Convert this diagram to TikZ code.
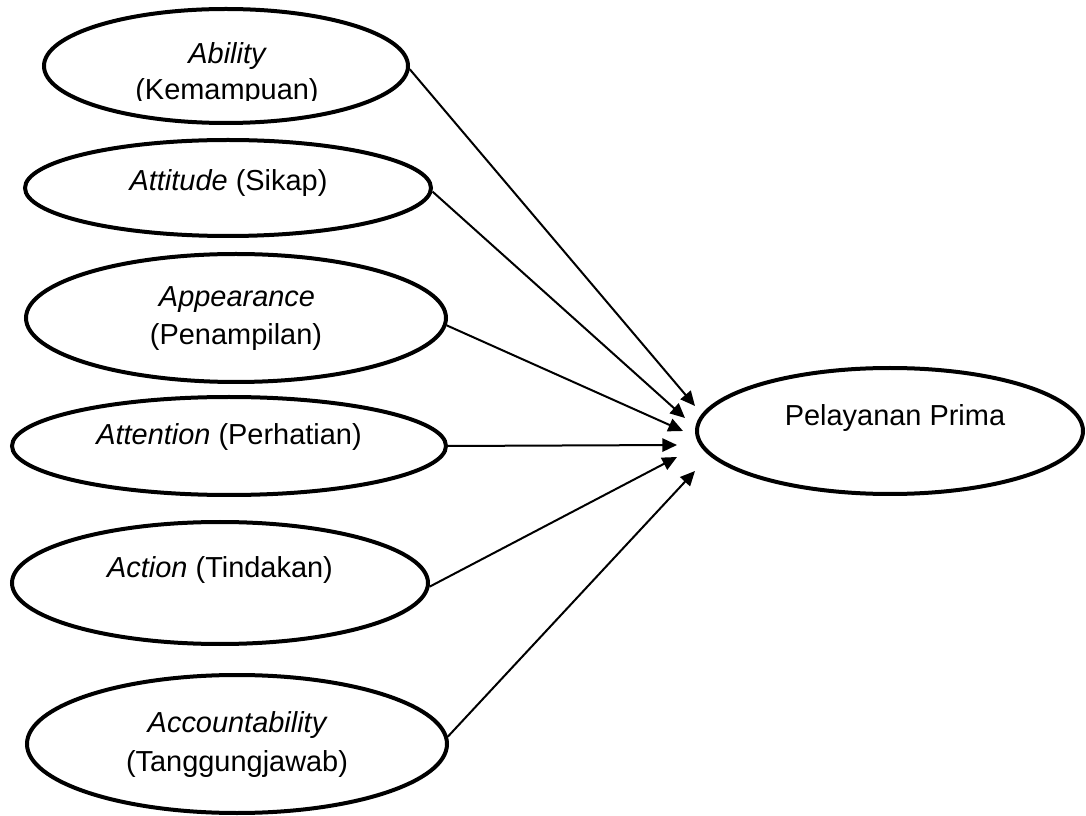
\documentclass[tikz,border=0pt]{standalone}
\usepackage{fontspec}
\setmainfont{Liberation Sans}
\usetikzlibrary{shapes.geometric,arrows.meta}
\begin{document}
\begin{tikzpicture}[x=0.75pt,y=-0.75pt,
  oval/.style={ellipse, draw, line width=3pt, inner sep=0pt},
  lbl/.style={anchor=base, inner sep=0pt, font=\fontsize{21.7pt}{26pt}\selectfont},
  conn/.style={line width=1.5pt, -{Triangle[length=11pt,width=10pt]}}]
\useasboundingbox (0,0) rectangle (1086,816);
% ellipses
\node[oval, minimum width=273pt,   minimum height=85.5pt]  (e1) at (226,66)  {};
\node[oval, minimum width=304.5pt, minimum height=72pt]    (e2) at (228,188) {};
\node[oval, minimum width=315pt,   minimum height=96pt]    (e3) at (236,318) {};
\node[oval, minimum width=325.5pt, minimum height=73.5pt]  (e4) at (229,446) {};
\node[oval, minimum width=312pt,   minimum height=91.5pt]  (e5) at (220,583) {};
\node[oval, minimum width=315pt,   minimum height=103.5pt] (e6) at (237,744) {};
\node[oval, minimum width=289.5pt, minimum height=94.5pt]  (pp) at (890,431) {};
% texts
\node[lbl] (l1a) at (227,63.5) {\itshape Ability};
\begin{scope}
  \clip (100,0) rectangle (360,100.3);
  \node[lbl] (l1b) at (227,100) {(Kemampuan)};
\end{scope}
\node[lbl] (l2) at (228.5,191) {\textit{Attitude} (Sikap)};
\node[lbl] (l3a) at (237,306.7) {\itshape Appearance};
\node[lbl] (l3b) at (236,345) {(Penampilan)};
\node[lbl] (l4) at (229,445) {\textit{Attention} (Perhatian)};
\node[lbl] (l5) at (220,577) {\textit{Action} (Tindakan)};
\node[lbl] (l6a) at (237,732.7) {\itshape Accountability};
\node[lbl] (l6b) at (237,771) {(Tanggungjawab)};
\node[lbl] (lp) at (895,426) {Pelayanan Prima};
% arrow tips
\coordinate (t1) at (695,406);
\coordinate (t2) at (685,418);
\coordinate (t3) at (683,431);
\coordinate (t4) at (677,445);
\coordinate (t5) at (677,457);
\coordinate (t6) at (695,471);
% connectors
\draw[conn] (e1.-1) -- (t1);
\draw[conn] (e2.-1) -- (t2);
\draw[conn] (e3.-2.5) -- (t3);
\draw[conn] (e4.0) -- (t4);
\draw[conn] (e5.-1) -- (t5);
\draw[conn] (e6.2) -- (t6);
\end{tikzpicture}
\end{document}
